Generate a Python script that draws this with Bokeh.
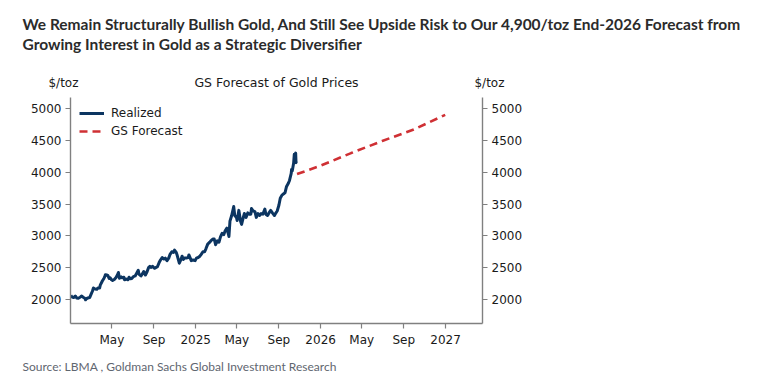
import pandas as pd
from bokeh.plotting import figure
from bokeh.layouts import column
from bokeh.models import (Range1d, LinearAxis, FixedTicker, Legend, LegendItem)
from bokeh.core.properties import value
from bokeh.embed import file_html
from bokeh.resources import INLINE

# ---------------- data ----------------
realized_dates = [
    "2024-01-02", "2024-01-05", "2024-01-10", "2024-01-15", "2024-01-19", "2024-01-24", "2024-01-29",
    "2024-02-02", "2024-02-07", "2024-02-12", "2024-02-14", "2024-02-16", "2024-02-21", "2024-02-26",
    "2024-03-01", "2024-03-05", "2024-03-08", "2024-03-13", "2024-03-18", "2024-03-21", "2024-03-26",
    "2024-03-28", "2024-04-03", "2024-04-08", "2024-04-11", "2024-04-12", "2024-04-16", "2024-04-19",
    "2024-04-23", "2024-04-26", "2024-04-30", "2024-05-03", "2024-05-08", "2024-05-13", "2024-05-17",
    "2024-05-20", "2024-05-23", "2024-05-28", "2024-05-31", "2024-06-05", "2024-06-07", "2024-06-12",
    "2024-06-17", "2024-06-20", "2024-06-24", "2024-06-28", "2024-07-03", "2024-07-08", "2024-07-12",
    "2024-07-17", "2024-07-19", "2024-07-25", "2024-07-30", "2024-08-02", "2024-08-07", "2024-08-12",
    "2024-08-16", "2024-08-20", "2024-08-23", "2024-08-28", "2024-09-03", "2024-09-06", "2024-09-11",
    "2024-09-16", "2024-09-20", "2024-09-25", "2024-09-30", "2024-10-04", "2024-10-09", "2024-10-14",
    "2024-10-18", "2024-10-23", "2024-10-28", "2024-10-31", "2024-11-05", "2024-11-08", "2024-11-12",
    "2024-11-14", "2024-11-19", "2024-11-22", "2024-11-26", "2024-11-29", "2024-12-04", "2024-12-10",
    "2024-12-12", "2024-12-16", "2024-12-19", "2024-12-24", "2024-12-30", "2025-01-03", "2025-01-08",
    "2025-01-13", "2025-01-17", "2025-01-22", "2025-01-27", "2025-01-31", "2025-02-05", "2025-02-11",
    "2025-02-14", "2025-02-20", "2025-02-24", "2025-02-28", "2025-03-05", "2025-03-10", "2025-03-14",
    "2025-03-19", "2025-03-24", "2025-03-28", "2025-04-02", "2025-04-08", "2025-04-11", "2025-04-16",
    "2025-04-22", "2025-04-25", "2025-04-30", "2025-05-02", "2025-05-07", "2025-05-12", "2025-05-15",
    "2025-05-20", "2025-05-23", "2025-05-28", "2025-06-02", "2025-06-06", "2025-06-11", "2025-06-13",
    "2025-06-18", "2025-06-23", "2025-06-27", "2025-07-02", "2025-07-07", "2025-07-11", "2025-07-16",
    "2025-07-22", "2025-07-25", "2025-07-30", "2025-08-04", "2025-08-08", "2025-08-13", "2025-08-19",
    "2025-08-22", "2025-08-27", "2025-09-01", "2025-09-05", "2025-09-10", "2025-09-15", "2025-09-19",
    "2025-09-23", "2025-09-29", "2025-10-02", "2025-10-07", "2025-10-08", "2025-10-10", "2025-10-14",
    "2025-10-16", "2025-10-17", "2025-10-20", "2025-10-21", "2025-10-22",
]
realized_values = [
    2064, 2040, 2030, 2055, 2025, 2020, 2035,
    2055, 2035, 2020, 1995, 2010, 2025, 2030,
    2080, 2130, 2180, 2165, 2160, 2180, 2180,
    2225, 2290, 2335, 2370, 2390, 2385, 2380,
    2330, 2340, 2310, 2300, 2315, 2345, 2385,
    2425, 2335, 2355, 2340, 2350, 2310, 2320,
    2310, 2350, 2325, 2330, 2360, 2370, 2410,
    2460, 2400, 2370, 2410, 2440, 2385, 2440,
    2500, 2520, 2505, 2520, 2490, 2500, 2515,
    2580, 2620, 2660, 2635, 2650, 2610, 2650,
    2710, 2750, 2740, 2775, 2740, 2690, 2610,
    2570, 2630, 2680, 2630, 2650, 2650, 2660,
    2700, 2650, 2610, 2620, 2610, 2650, 2660,
    2680, 2710, 2750, 2750, 2800, 2870, 2900,
    2920, 2950, 2950, 2860, 2920, 2900, 2980,
    3040, 3020, 3080, 3120, 2990, 3230, 3320,
    3460, 3320, 3290, 3240, 3400, 3230, 3180,
    3290, 3350, 3290, 3360, 3340, 3340, 3430,
    3390, 3380, 3290, 3350, 3320, 3350, 3340,
    3420, 3340, 3320, 3370, 3400, 3360, 3320,
    3350, 3390, 3480, 3590, 3640, 3660, 3680,
    3770, 3830, 3870, 3980, 4040, 4020, 4140,
    4280, 4250, 4300, 4150, 4170,
]
forecast_dates = ["2025-10-24", "2025-12-31", "2026-03-31", "2026-06-30", "2026-09-30", "2026-12-31"]
forecast_values = [3970, 4100, 4300, 4490, 4670, 4900]

y_ticks = [2000, 2500, 3000, 3500, 4000, 4500, 5000]
x_tick_dates = ["2024-05-01", "2024-09-01", "2025-01-01", "2025-05-01", "2025-09-01",
                "2026-01-01", "2026-05-01", "2026-09-01", "2027-01-01"]
x_tick_labels = ["May", "Sep", "2025", "May", "Sep", "2026", "May", "Sep", "2027"]

title_lines = ["We Remain Structurally Bullish Gold, And Still See Upside Risk to Our 4,900/toz End-2026 Forecast from",
               "Growing Interest in Gold as a Strategic Diversifier"]
chart_title = "GS Forecast of Gold Prices"
unit_label = "$/toz"
source_text = "Source: LBMA , Goldman Sachs Global Investment Research"

# ---------------- layout constants ----------------
W = 758
HEAD_H, MAIN_H, FOOT_H = 92, 258, 26
FL, FR = 70, 482          # frame left/right (page px)
FT, FB = 97, 323          # frame top/bottom (page px)
NAVY = "#0c3561"
RED = "#cf3034"
AXIS = "#808080"
TXT = "#1a1a1a"
CHART_FONT = "DejaVu Sans"


def text_panel(height):
    f = figure(width=W, height=height, output_backend="svg", toolbar_location=None, tools="",
               x_range=Range1d(0, W), y_range=Range1d(height, 0),
               x_axis_location=None, y_axis_location=None,
               min_border_left=0, min_border_right=0, min_border_top=0, min_border_bottom=0)
    f.frame_align = False
    f.outline_line_color = None
    f.grid.visible = False
    f.background_fill_color = "white"
    f.border_fill_color = "white"
    return f


# ---------------- header ----------------
head = text_panel(HEAD_H)
head.text(x=[22, 22], y=[23.5, 43.5], text=title_lines, text_font=value("Lato"),
          text_font_style="bold", text_font_size="15.5px", text_color="#2b2b2b",
          text_baseline="alphabetic", text_align="left")
head.text(x=[63, 489], y=[82, 82], text=[unit_label, unit_label], text_font=value(CHART_FONT),
          text_font_size="12px", text_color=TXT, text_baseline="middle", text_align="center")
head.text(x=[276], y=[82], text=[chart_title], text_font=value(CHART_FONT),
          text_font_size="12.5px", text_color=TXT, text_baseline="middle", text_align="center")

# ---------------- main chart ----------------
rd = pd.to_datetime(realized_dates)
fd = pd.to_datetime(forecast_dates)

p = figure(width=W, height=MAIN_H, x_axis_type="datetime", output_backend="svg",
           toolbar_location=None, tools="",
           x_range=Range1d(pd.Timestamp("2024-01-01"), pd.Timestamp("2027-04-19")),
           y_range=Range1d(1623, 5173),
           min_border_left=FL, min_border_right=W - FR,
           min_border_top=FT - HEAD_H, min_border_bottom=HEAD_H + MAIN_H - FB)
p.frame_align = False
p.outline_line_color = None
p.grid.visible = False
p.background_fill_color = "white"
p.border_fill_color = "white"

r1 = p.line(rd, realized_values, line_color=NAVY, line_width=3, line_join="round")
r2 = p.line(fd, forecast_values, line_color=RED, line_width=2.6, line_dash="8 5")

tick_ms = [pd.Timestamp(d).value / 1e6 for d in x_tick_dates]


def style_axis(ax):
    ax.axis_line_color = AXIS
    ax.axis_line_width = 1.4
    ax.major_tick_line_color = AXIS
    ax.major_tick_line_width = 1.2
    ax.major_tick_out = 5
    ax.major_tick_in = 0
    ax.minor_tick_line_color = None
    ax.major_label_text_font = CHART_FONT
    ax.major_label_text_font_size = "12px"
    ax.major_label_text_color = TXT
    ax.major_label_standoff = 4


xa = p.xaxis[0]
xa.ticker = FixedTicker(ticks=tick_ms)
xa.major_label_overrides = {t: l for t, l in zip(tick_ms, x_tick_labels)}
style_axis(xa)

ya = p.yaxis[0]
ya.ticker = FixedTicker(ticks=y_ticks)
style_axis(ya)

ra = LinearAxis(ticker=FixedTicker(ticks=y_ticks))
style_axis(ra)
p.add_layout(ra, "right")

legend = Legend(items=[LegendItem(label="Realized", renderers=[r1]),
                       LegendItem(label="GS Forecast", renderers=[r2])],
                location="top_left", margin=9, padding=0, spacing=4,
                label_height=14, glyph_height=14, glyph_width=25, label_standoff=7,
                label_text_font=CHART_FONT, label_text_font_size="12px", label_text_color=TXT,
                background_fill_alpha=0, border_line_alpha=0)
p.add_layout(legend)

# ---------------- footer ----------------
foot = text_panel(FOOT_H)
foot.text(x=[22], y=[16], text=[source_text], text_font=value("Lato"),
          text_font_size="12px", text_color="#5f6670", text_baseline="middle", text_align="left")

layout = column(head, p, foot, spacing=0)
open("out.html", "w").write(file_html(layout, INLINE))
